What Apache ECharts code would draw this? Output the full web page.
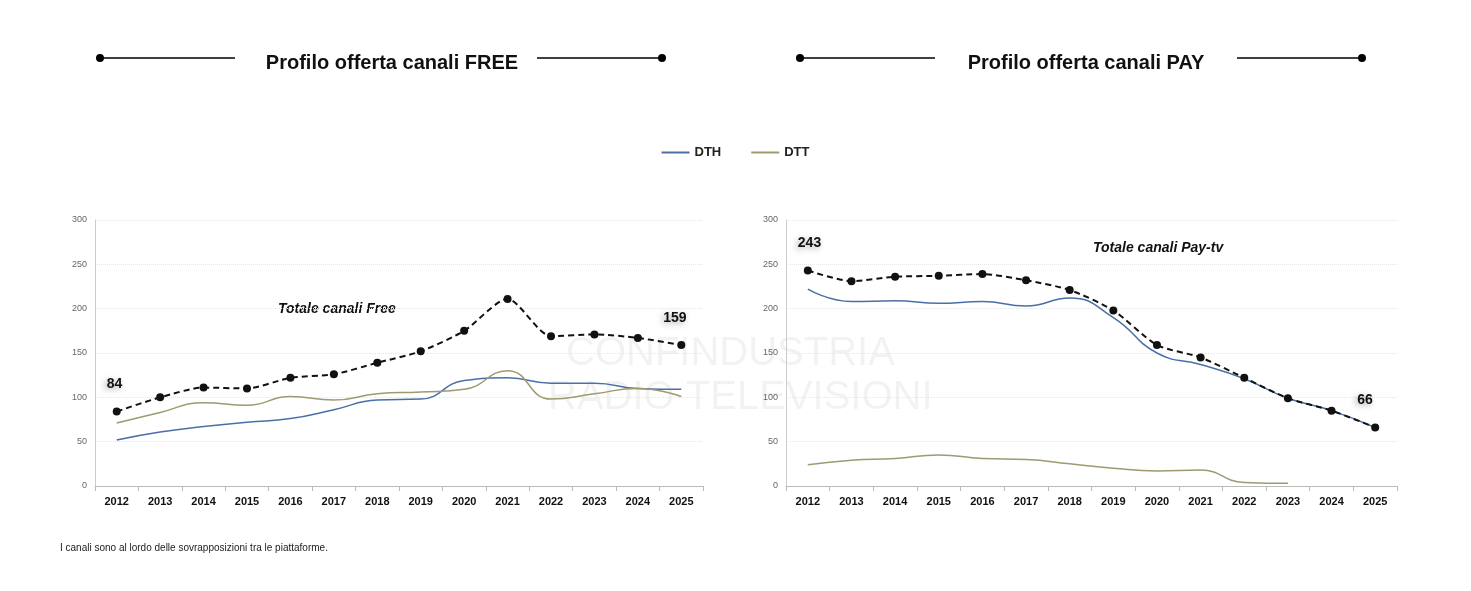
<!DOCTYPE html>
<html>
<head>
<meta charset="utf-8">
<script src="https://cdn.jsdelivr.net/npm/echarts@6/dist/echarts.min.js"></script>
<style>html,body{margin:0;padding:0;background:#fff}#chart{width:1471px;height:591px}</style>
</head>
<body>
<div id="chart"></div>
<script>
var years = ['2012','2013','2014','2015','2016','2017','2018','2019','2020','2021','2022','2023','2024','2025'];
var freeTotal = [84, 100, 111, 110, 122, 126, 139, 152, 175, 211, 169, 171, 167, 159];
var freeDTH = [52, 61, 67, 72, 76, 86, 97, 98, 119, 122, 116, 116, 110, 109];
var freeDTT = [71, 83, 94, 91, 101, 97, 104, 106, 109, 130, 98, 104, 110, 101];
var payTotal = [243, 231, 236, 237, 239, 232, 221, 198, 159, 145, 122, 99, 85, 66];
var payDTH = [222, 208, 209, 206, 208, 203, 212, 190, 150, 137, 121, 99, 85, 66];
var payDTT = [24, 29, 31, 35, 31, 30, 25, 20, 17, 18, 4, 3, null, null];

var chart = echarts.init(document.getElementById('chart'));

function axisX(i) {
    return {
        type: 'category', gridIndex: i, data: years,
        axisLine: {lineStyle: {color: '#bbb'}},
        axisTick: {show: true, lineStyle: {color: '#bbb'}},
        axisLabel: {color: '#111', fontWeight: 'bold', fontSize: 11, margin: 10}
    };
}
function axisY(i) {
    return {
        type: 'value', gridIndex: i, min: 0, max: 300, interval: 50,
        axisLine: {show: true, lineStyle: {color: '#ccc'}},
        splitLine: {lineStyle: {color: '#e6e6e6', type: 'dotted'}},
        axisLabel: {color: '#666', fontSize: 9}
    };
}
function endLabels(data) {
    return data.map(function (v, i) {
        if (i === 0 || i === data.length - 1) {
            return {value: v, label: {show: true, position: i === 0 ? [-6, -30] : [-14, -30], formatter: '{c}',
                fontSize: 14, fontWeight: 'bold', color: '#111',
                textShadowColor: 'rgba(0,0,0,.35)', textShadowBlur: 6, textShadowOffsetX: -2, textShadowOffsetY: 2}};
        }
        return v;
    });
}
function totalSeries(i, data) {
    return {
        name: 'Totale', type: 'line', xAxisIndex: i, yAxisIndex: i, data: endLabels(data),
        smooth: 0.25, symbol: 'circle', symbolSize: 8, itemStyle: {color: '#111'},
        lineStyle: {color: '#111', width: 2, type: [6, 4]}, z: 5
    };
}
function lineSeries(name, i, data, color) {
    return {
        name: name, type: 'line', xAxisIndex: i, yAxisIndex: i, data: data, smooth: true,
        showSymbol: false, lineStyle: {color: color, width: 1.5}, itemStyle: {color: color}
    };
}

function titleDeco(x1, x2, y) {
    return [
        {type: 'line', shape: {x1: x1, y1: y, x2: x1 + 135, y2: y}, style: {stroke: '#000', lineWidth: 1.5}},
        {type: 'circle', shape: {cx: x1, cy: y, r: 4}, style: {fill: '#000'}},
        {type: 'line', shape: {x1: x2 - 125, y1: y, x2: x2, y2: y}, style: {stroke: '#000', lineWidth: 1.5}},
        {type: 'circle', shape: {cx: x2, cy: y, r: 4}, style: {fill: '#000'}}
    ];
}

var option = {
    backgroundColor: '#fff',
    title: [
        {text: 'Profilo offerta canali FREE', left: 387, top: 48, textAlign: 'center', textStyle: {fontSize: 20, fontWeight: 'bold', color: '#111'}},
        {text: 'Profilo offerta canali PAY', left: 1081, top: 48, textAlign: 'center', textStyle: {fontSize: 20, fontWeight: 'bold', color: '#111'}}
    ],
    legend: {
        top: 141, left: 'center', itemGap: 30, itemWidth: 28, itemHeight: 2, icon: 'rect',
        data: ['DTH', 'DTT'], textStyle: {fontSize: 13, fontWeight: 'bold', color: '#222'}
    },
    graphic: titleDeco(100, 662, 58).concat(titleDeco(800, 1362, 58)).concat([
        {type: 'text', left: 278, top: 302, style: {text: 'Totale canali Free', font: 'italic bold 14px sans-serif', fill: '#111'}},
        {type: 'text', left: 1093, top: 241, style: {text: 'Totale canali Pay-tv', font: 'italic bold 14px sans-serif', fill: '#111'}},
        {type: 'text', left: 60, top: 543, style: {text: 'I canali sono al lordo delle sovrapposizioni tra le piattaforme.', font: '10px sans-serif', fill: '#222'}},
        {type: 'text', left: 566, top: 334, z: -1, style: {text: 'CONFINDUSTRIA', font: '40px sans-serif', fill: 'rgba(0,0,0,.05)'}},
        {type: 'text', left: 548, top: 378, z: -1, style: {text: 'RADIO TELEVISIONI', font: '40px sans-serif', fill: 'rgba(0,0,0,.05)'}}
    ]),
    grid: [
        {left: 95, right: 768, top: 220, bottom: 105},
        {left: 786, right: 74, top: 220, bottom: 105}
    ],
    xAxis: [axisX(0), axisX(1)],
    yAxis: [axisY(0), axisY(1)],
    series: [
        lineSeries('DTH', 0, freeDTH, '#4a6fa5'),
        lineSeries('DTT', 0, freeDTT, '#9e9a72'),
        totalSeries(0, freeTotal),
        lineSeries('DTH', 1, payDTH, '#4a6fa5'),
        lineSeries('DTT', 1, payDTT, '#9e9a72'),
        totalSeries(1, payTotal)
    ]
};
chart.setOption(option);
</script>
</body>
</html>
